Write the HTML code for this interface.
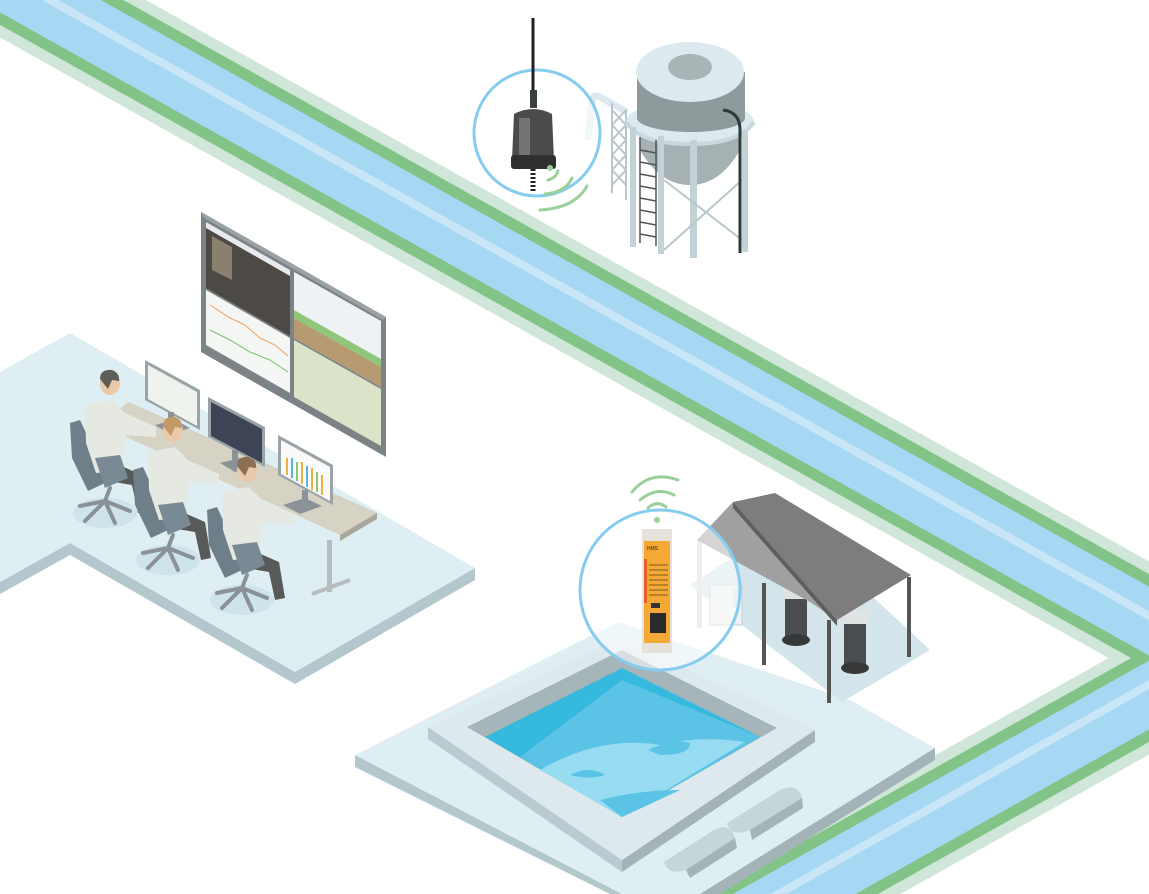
<!DOCTYPE html>
<html><head><meta charset="utf-8"><style>html,body{margin:0;padding:0;background:#fff;width:1149px;height:894px;overflow:hidden}svg{display:block}</style></head>
<body>
<svg width="1149" height="894" viewBox="0 0 1149 894" xmlns="http://www.w3.org/2000/svg" font-family="Liberation Sans, sans-serif" style="overflow:hidden">
<!-- River -->
<g fill="none" stroke-linejoin="round">
<polyline points="-200,-134 1215,658 400,1115" stroke="#d0e6d8" stroke-width="104"/>
<polyline points="-200,-134 1215,658 400,1115" stroke="#82c487" stroke-width="82"/>
<polyline points="-200,-134 1215,658 400,1115" stroke="#a6d8f4" stroke-width="60"/>
<polyline points="-200,-140 1210,650 400,1108" stroke="#c9e5f8" stroke-width="8"/>
</g>

<!-- Control room floor -->
<polygon points="0,582 70,543 295,672 475,568 475,580 295,684 70,555 0,594" fill="#b4c7cc"/>
<polygon points="0,372 70,333 475,568 295,672 70,543 0,582" fill="#deeef3"/>

<!-- Video wall -->
<polygon points="201,212 386,317 386,457 201,352" fill="#7b8387"/>
<polygon points="201,212 386,317 383,320 204,218" fill="#9aa2a6"/>
<polygon points="206,222 290,270 290,336 206,288" fill="#4d4a45"/>
<polygon points="206,222 290,270 290,276 206,228" fill="#e8eaec"/>
<polygon points="212,236 232,247 232,280 212,270" fill="#8a8070"/>
<polygon points="206,290 290,338 290,393 206,345" fill="#f4f6f4"/>
<polyline points="210,305 230,318 245,325 260,338 275,345 288,356" fill="none" stroke="#f0a060" stroke-width="1"/>
<polyline points="210,330 230,340 250,352 270,360 288,372" fill="none" stroke="#7cc070" stroke-width="1"/>
<polygon points="294,272 381,321 381,387 294,338" fill="#eef2f4"/>
<polygon points="294,318 381,367 381,387 294,338" fill="#b59a72"/>
<polygon points="294,310 381,359 381,367 294,318" fill="#8fc77a"/>
<polygon points="294,340 381,389 381,446 294,397" fill="#dbe4c8"/>
<line x1="292" y1="270" x2="292" y2="398" stroke="#7b8387" stroke-width="3"/>

<!-- Desk -->
<polygon points="128,402 377,513 377,519 340,541 340,535" fill="#a9a89e"/>
<polygon points="128,402 377,513 340,535 100,425" fill="#d6d2c4"/>
<rect x="327" y="540" width="5" height="52" fill="#b9bcbd"/>
<line x1="312" y1="594" x2="350" y2="580" stroke="#b9bcbd" stroke-width="4"/>

<!-- Monitors -->
<g>
<polygon points="145,360 200,390 200,430 145,400" fill="#9aa3a8"/>
<polygon points="148,365 197,392 197,426 148,399" fill="#eef3ee"/>
<rect x="168" y="412" width="6" height="14" fill="#8b9398"/>
<polygon points="155,425 175,420 190,428 170,434" fill="#8b9398"/>
<polygon points="208,397 265,427 265,467 208,437" fill="#9aa3a8"/>
<polygon points="211,402 262,429 262,463 211,436" fill="#3d4456"/>
<rect x="232" y="450" width="6" height="14" fill="#8b9398"/>
<polygon points="220,463 240,458 255,466 235,472" fill="#8b9398"/>
<polygon points="278,435 333,465 333,505 278,475" fill="#9aa3a8"/>
<polygon points="281,440 330,467 330,501 281,474" fill="#fafafa"/>
<g stroke-width="2">
<line x1="287" y1="458" x2="287" y2="475" stroke="#f0b040"/>
<line x1="292" y1="458" x2="292" y2="478" stroke="#5db0e0"/>
<line x1="297" y1="462" x2="297" y2="481" stroke="#8cc870"/>
<line x1="302" y1="462" x2="302" y2="484" stroke="#f0b040"/>
<line x1="307" y1="466" x2="307" y2="487" stroke="#5db0e0"/>
<line x1="312" y1="468" x2="312" y2="490" stroke="#f0b040"/>
<line x1="317" y1="472" x2="317" y2="492" stroke="#8cc870"/>
<line x1="322" y1="475" x2="322" y2="495" stroke="#f0b040"/>
</g>
<rect x="302" y="490" width="6" height="14" fill="#8b9398"/>
<polygon points="283,505 305,498 322,506 300,514" fill="#8b9398"/>
</g>

<!-- People -->
<defs>
<g id="person">
<ellipse cx="-5" cy="130" rx="32" ry="15" fill="#cfe3ea"/>
<g stroke="#8a9297" stroke-width="4" stroke-linecap="round">
<line x1="-5" y1="118" x2="-30" y2="123"/><line x1="-5" y1="118" x2="-25" y2="138"/>
<line x1="-5" y1="118" x2="5" y2="140"/><line x1="-5" y1="118" x2="20" y2="128"/>
<line x1="-5" y1="118" x2="0" y2="105"/>
</g>
<polygon points="-40,40 -30,37 -10,80 -5,100 -22,108 -38,75" fill="#6e7f8a"/>
<polygon points="0,78 32,92 38,128 28,130 22,102 -2,98" fill="#575a58"/>
<polygon points="-25,22 2,17 15,30 46,44 46,54 16,52 12,88 -14,90 -24,60" fill="#e6e8e2"/>
<polygon points="-15,75 10,72 18,95 -5,105" fill="#7a8a94"/>
<ellipse cx="0" cy="0" rx="10" ry="12" fill="#e9c9a8"/>
</g>
</defs>
<g transform="translate(110,383)"><use href="#person"/><path d="M-10,-4 Q-10,-14 2,-13 Q10,-10 9,-2 L2,-3 L-2,6 Z" fill="#5b5f58"/></g>
<g transform="translate(173,430)"><use href="#person"/><path d="M-10,-4 Q-10,-14 2,-13 Q10,-10 9,-2 L2,-3 L-2,6 Z" fill="#c19a68"/></g>
<g transform="translate(247,470)"><use href="#person"/><path d="M-10,-4 Q-10,-14 2,-13 Q10,-10 9,-2 L2,-3 L-2,6 Z" fill="#8a6f55"/></g>

<!-- Tower -->
<g>
<path d="M627,112 L600,97 Q592,94 592,102 L588,140" fill="none" stroke="#dbe9ee" stroke-width="7"/>
<g stroke="#b8c7cb" stroke-width="2" fill="none">
<line x1="612" y1="103" x2="612" y2="193"/><line x1="626" y1="110" x2="626" y2="200"/>
<path d="M612,110 L626,125 L612,140 L626,155 L612,170 L626,185"/>
<path d="M626,110 L612,125 L626,140 L612,155 L626,170 L612,185"/>
</g>
<!-- lower tank + cone -->
<path d="M640,120 L740,120 L740,150 Q720,185 690,185 Q660,185 640,150 Z" fill="#a6b1b3"/>
<!-- platform ring -->
<ellipse cx="690" cy="122" rx="64" ry="22" fill="#dce9ee"/>
<!-- upper tank -->
<rect x="637" y="72" width="108" height="46" fill="#8f9a9c"/>
<ellipse cx="691" cy="118" rx="54" ry="14" fill="#8f9a9c"/>
<ellipse cx="690" cy="72" rx="54" ry="30" fill="#dce9ee"/>
<ellipse cx="690" cy="67" rx="22" ry="13" fill="#a9b4b6"/>
<path d="M626,122 Q640,144 690,144 Q740,144 754,122" fill="none" stroke="#c8d8dd" stroke-width="4"/>
<g fill="#c3d2d6">
<rect x="630" y="127" width="6" height="120"/><rect x="658" y="136" width="6" height="118"/>
<rect x="690" y="140" width="7" height="118"/><rect x="742" y="130" width="6" height="122"/>
</g>
<g stroke="#b8c7cb" stroke-width="2"><line x1="664" y1="180" x2="742" y2="240"/><line x1="742" y1="180" x2="664" y2="250"/></g>
<g stroke="#4e5558" stroke-width="1.5">
<line x1="640" y1="137" x2="640" y2="243"/><line x1="656" y1="140" x2="656" y2="246"/>
<line x1="640" y1="150" x2="656" y2="153"/><line x1="640" y1="162" x2="656" y2="165"/>
<line x1="640" y1="174" x2="656" y2="177"/><line x1="640" y1="186" x2="656" y2="189"/>
<line x1="640" y1="198" x2="656" y2="201"/><line x1="640" y1="210" x2="656" y2="213"/>
<line x1="640" y1="222" x2="656" y2="225"/><line x1="640" y1="234" x2="656" y2="237"/>
</g>
<path d="M723,110 Q740,112 740,130 L740,253" fill="none" stroke="#2e3a3a" stroke-width="3"/>
</g>

<!-- Sensor circle -->
<circle cx="537" cy="133" r="63" fill="#ffffff" fill-opacity="0.6" stroke="#86ccee" stroke-width="3"/>
<line x1="533" y1="18" x2="533" y2="100" stroke="#1e2224" stroke-width="3"/>
<rect x="530" y="90" width="7" height="18" fill="#3a3f40"/>
<path d="M514,114 Q533,104 552,114 L554,160 L512,160 Z" fill="#4a4c4c"/>
<rect x="519" y="118" width="11" height="38" fill="#727474"/>
<rect x="511" y="155" width="45" height="14" rx="3" fill="#2e3030"/>
<path d="M533,169 L533,192" stroke="#222" stroke-width="5" stroke-dasharray="2,2"/>
<g fill="none" stroke="#9ad09c" stroke-width="3" stroke-linecap="round">
<path d="M548,180 Q556,178 558,171"/><path d="M545,194 Q566,192 572,178"/><path d="M540,210 Q575,208 587,186"/>
</g>
<circle cx="550" cy="168" r="3" fill="#9ad09c"/>

<!-- Pool pad -->
<polygon points="355,755 622,894 610,894 355,767" fill="#b4c7cc"/>
<polygon points="355,755 618,622 850,700 935,748 700,894 622,894" fill="#deeef3"/>
<polygon points="700,894 935,748 935,760 720,894" fill="#a3b3b8"/>
<polygon points="690,585 790,520 930,650 842,702" fill="#d3e5ea"/>

<!-- Pool -->
<polygon points="428,727 622,860 622,872 428,739" fill="#b9cbd0"/>
<polygon points="622,860 815,730 815,742 622,872" fill="#a3b3b8"/>
<polygon points="428,727 622,638 815,730 622,860" fill="#dde9ed"/>
<polygon points="467,727 622,650 777,728 622,817" fill="#a5b5ba"/>
<polygon points="485,737 622,668 760,737 622,817" fill="#35b9dc"/>
<polygon points="520,757 622,680 760,737 622,817" fill="#5ac3e6"/>
<path d="M540,770 Q600,735 660,745 Q700,735 745,742 L622,817 Z" fill="#97dcf0"/>
<path d="M648,750 Q675,738 690,743 Q690,755 660,755 Z" fill="#5ac3e6"/>
<path d="M570,775 Q590,765 605,775 Q590,780 570,775 Z" fill="#5ac3e6"/>
<path d="M600,800 Q640,790 680,790 L622,817 Z" fill="#5ac3e6"/>
<path d="M664,862 L714,830 Q730,822 735,838 L686,870 Q668,876 664,862 Z" fill="#c5d6da"/>
<path d="M727,823 L780,790 Q798,782 802,798 L750,830 Q730,838 727,823 Z" fill="#c5d6da"/>
<path d="M686,870 L735,838 L737,848 L690,878 Z" fill="#a3b3b8"/>
<path d="M750,830 L802,798 L803,808 L752,840 Z" fill="#a3b3b8"/>

<!-- Shelter -->
<rect x="697" y="540" width="5" height="88" fill="#d7dbdc"/>
<rect x="710" y="585" width="32" height="40" fill="#eef1f2" stroke="#c8cfd1"/>
<rect x="733" y="588" width="7" height="20" fill="#cde5f0"/>
<g>
<rect x="785" y="598" width="22" height="40" fill="#4a4d4f"/><ellipse cx="796" cy="640" rx="14" ry="6" fill="#353738"/>
<rect x="783" y="587" width="26" height="12" fill="#e0e3e4"/>
<rect x="844" y="622" width="22" height="46" fill="#4a4d4f"/><ellipse cx="855" cy="668" rx="14" ry="6" fill="#353738"/>
<rect x="842" y="610" width="26" height="14" fill="#e0e3e4"/>
</g>
<polygon points="697,540 733,502 837,620 810,602" fill="#a0a0a0"/>
<polygon points="733,502 775,493 911,575 837,620" fill="#7d7d7d"/>
<polygon points="733,502 837,620 837,626 733,508" fill="#5f5f5f"/>
<g fill="#555">
<rect x="762" y="583" width="4" height="82"/><rect x="827" y="620" width="4" height="83"/><rect x="907" y="577" width="4" height="80"/>
</g>

<!-- Device circle -->
<circle cx="660" cy="590" r="80" fill="#ffffff" fill-opacity="0.55" stroke="#86ccee" stroke-width="3"/>
<rect x="642" y="529" width="30" height="124" fill="#e4e2da"/>
<rect x="644" y="541" width="26" height="102" fill="#f5a934"/>
<rect x="644" y="559" width="3" height="44" fill="#e6602a"/>
<g fill="#6a4a10" font-size="5" font-weight="bold"><text x="647" y="550">HMS</text></g>
<g stroke="#7a5a20" stroke-width="1"><line x1="649" y1="565" x2="668" y2="565"/><line x1="649" y1="570" x2="668" y2="570"/><line x1="649" y1="575" x2="668" y2="575"/><line x1="649" y1="580" x2="668" y2="580"/><line x1="649" y1="585" x2="668" y2="585"/><line x1="649" y1="590" x2="668" y2="590"/><line x1="649" y1="595" x2="668" y2="595"/></g>
<rect x="651" y="603" width="9" height="5" fill="#333"/>
<rect x="650" y="613" width="16" height="20" fill="#2a2a2a"/>
<g fill="none" stroke="#9ad09c" stroke-width="3" stroke-linecap="round">
<path d="M648,508 Q657,500 666,507"/><path d="M640,500 Q657,486 674,495"/><path d="M632,492 Q650,470 678,480"/>
</g>
<circle cx="657" cy="520" r="3" fill="#9ad09c"/>
</svg>
</body></html>
